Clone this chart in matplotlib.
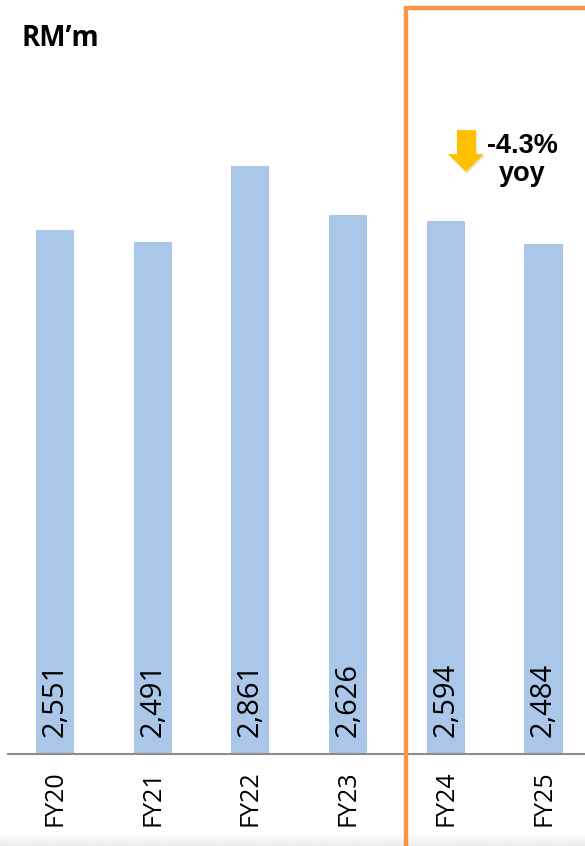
import numpy as np
import matplotlib.pyplot as plt
from matplotlib.patches import Rectangle, Polygon

# data
years = ['FY20', 'FY21', 'FY22', 'FY23', 'FY24', 'FY25']
values = [2551, 2491, 2861, 2626, 2594, 2484]
unit_label = 'RM\u2019m'
change_label = '-4.3%\nyoy'

W, H = 585, 846
fig = plt.figure(figsize=(W / 100, H / 100), dpi=100)

def px(x, y):
  # pixel (from top-left) -> figure fraction
  return x / W, 1 - y / H

# axes: baseline at y=754px, spans x 8..585
base_y, top_y = 754, 6
ax = fig.add_axes([8 / W, (H - base_y) / H, (W - 8) / W, (base_y - top_y) / H])
step = 97.7
ax.set_xlim((8 - 55) / step, (585 - 55) / step)
ax.set_ylim(0, (base_y - top_y) / 0.2054)

x = np.arange(len(years))
ax.bar(x, values, width=0.39, color='#AAC7EA', zorder=2)
for xi, v in zip(x, values):
  ax.text(xi, 82, '{:,}'.format(v), rotation=90, ha='center', va='bottom',
          fontsize=21, family='Open Sans', color='black', zorder=3)

ax.set_xticks(x)
ax.set_xticklabels(years, rotation=90, fontsize=18, family='Open Sans')
ax.tick_params(axis='x', length=0, pad=12)
ax.set_yticks([])
for side in ['top', 'right', 'left']:
  ax.spines[side].set_visible(False)
ax.spines['bottom'].set_color('#8c8c8c')
ax.spines['bottom'].set_linewidth(1.5)
ax.patch.set_alpha(0)

# unit label
fig.text(*px(22, 38), unit_label, fontsize=20, fontweight='bold',
         family='Open Sans', va='center', ha='left')

# highlight box around FY24/FY25
x0, y0 = px(406, 8)
fig.patches.append(Rectangle((x0, -0.1), 0.5, y0 + 0.1, transform=fig.transFigure,
                             fill=False, edgecolor='#F79646', linewidth=3.2,
                             zorder=5))

# down arrow
arrow_px = [(457, 130), (476, 130), (476, 154), (484, 154), (466, 172),
            (448, 154), (457, 154)]
shadow = Polygon([px(a + 1.5, b + 2) for a, b in arrow_px], closed=True,
                 transform=fig.transFigure, facecolor='#d9d9d9',
                 edgecolor='none', alpha=0.6, zorder=4)
arrow = Polygon([px(a, b) for a, b in arrow_px], closed=True,
                transform=fig.transFigure, facecolor='#FFC000',
                edgecolor='none', zorder=5)
fig.patches.extend([shadow, arrow])

fig.text(*px(522, 160), change_label, fontsize=19.5, fontweight='bold',
         family='Liberation Sans', ha='center', va='center', linespacing=1.1)

# faint shadow at the bottom edge
gax = fig.add_axes([0, 0, 1, 11 / H])
gax.imshow(np.linspace(1, 0.92, 20).reshape(-1, 1), cmap='gray', vmin=0, vmax=1,
           aspect='auto', extent=[0, 1, 0, 1])
gax.axis('off')

fig.savefig('out.png', dpi=100)
